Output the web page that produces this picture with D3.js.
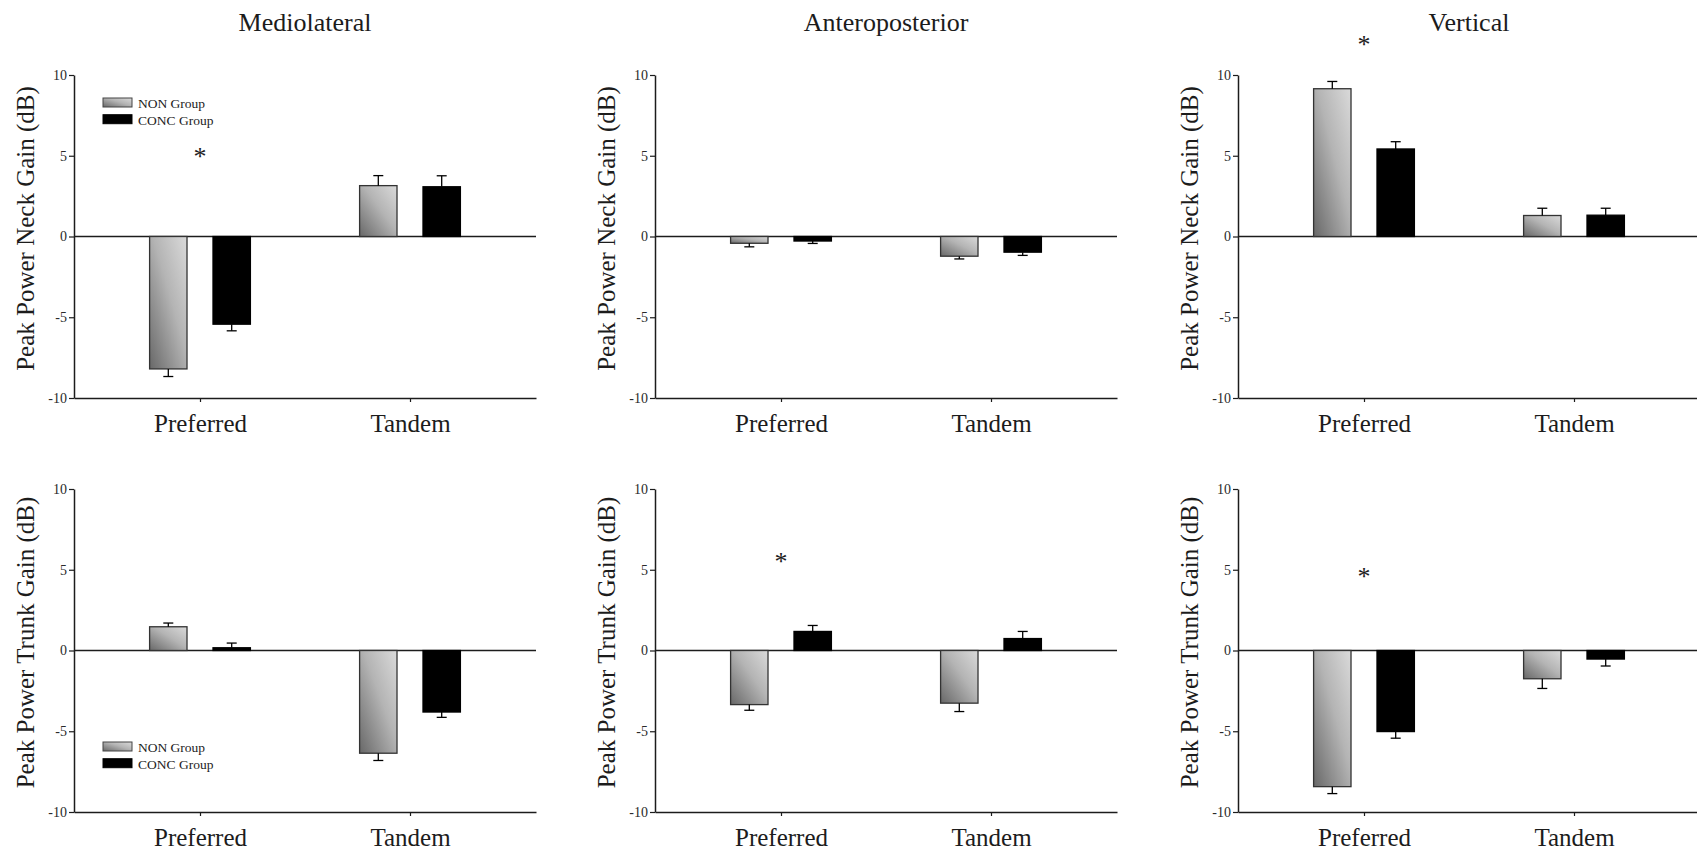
<!DOCTYPE html>
<html>
<head>
<meta charset="utf-8">
<script src="https://d3js.org/d3.v7.min.js"></script>
<style>
	body { margin: 0; background: #fff; }
	svg { font-family: "Liberation Serif", "Times New Roman", serif; }
</style>
</head>
<body>
<script>

const directions = ["Mediolateral", "Anteroposterior", "Vertical"];
const segments = ["Neck", "Trunk"];
const conditions = ["Preferred", "Tandem"];
const groups = ["NON Group", "CONC Group"];
const yTicks = [10, 5, 0, -5, -10];

// peak power gain (dB), one pair per direction: [Preferred, Tandem]
const neckNonMean  = [[-8.2, 3.15], [-0.42, -1.22], [9.15, 1.3]];
const neckNonSE    = [[0.47, 0.62], [0.22, 0.17], [0.45, 0.45]];
const neckConcMean = [[-5.43, 3.08], [-0.28, -0.97], [5.42, 1.32]];
const neckConcSE   = [[0.41, 0.68], [0.15, 0.2], [0.45, 0.43]];
const trunkNonMean  = [[1.47, -6.36], [-3.35, -3.26], [-8.43, -1.75]];
const trunkNonSE    = [[0.23, 0.45], [0.35, 0.52], [0.43, 0.6]];
const trunkConcMean = [[0.17, -3.81], [1.18, 0.74], [-5.02, -0.53]];
const trunkConcSE   = [[0.29, 0.33], [0.37, 0.44], [0.41, 0.43]];

// significance markers: segment, direction, condition, height (dB)
const starSegment   = ["Neck", "Neck", "Trunk", "Trunk"];
const starDirection = ["Mediolateral", "Vertical", "Anteroposterior", "Vertical"];
const starCondition = ["Preferred", "Preferred", "Preferred", "Preferred"];
const starValue     = [5.2, 12.1, 5.7, 4.8];

const means = {
	Neck: { "NON Group": neckNonMean, "CONC Group": neckConcMean },
	Trunk: { "NON Group": trunkNonMean, "CONC Group": trunkConcMean }
};
const errors = {
	Neck: { "NON Group": neckNonSE, "CONC Group": neckConcSE },
	Trunk: { "NON Group": trunkNonSE, "CONC Group": trunkConcSE }
};

const width = 1697, height = 853;
const colLeft = [74, 655, 1238], plotW = 462;
const rowTop = [75, 489], plotH = 323;
const ink = "#1c1c1c";

var svg = d3.select("body")
	.append("svg")
	.attr("width", width)
	.attr("height", height);

var grad = svg.append("defs")
	.append("linearGradient")
	.attr("id", "nonGrad")
	.attr("x1", 0).attr("y1", 1)
	.attr("x2", 1).attr("y2", 0);
grad.append("stop").attr("offset", "0%").attr("stop-color", "#686868");
grad.append("stop").attr("offset", "55%").attr("stop-color", "#b4b4b4");
grad.append("stop").attr("offset", "100%").attr("stop-color", "#dadada");

var y = d3.scaleLinear().domain([-10, 10]).range([plotH, 0]);
var x0 = d3.scalePoint().domain(conditions).range([0, plotW]).padding(0.6);
var step = x0.step();
var x1 = d3.scaleBand().domain(groups)
	.range([-0.24 * step, 0.24 * step])
	.paddingInner(0.41);

var fillOf = g => g == "NON Group" ? "url(#nonGrad)" : "#000";

segments.forEach((seg, r) => {
	directions.forEach((dir, c) => {
		var panel = svg.append("g")
			.attr("transform", "translate(" + colLeft[c] + "," + rowTop[r] + ")");

		var rows = [];
		conditions.forEach((cond, i) => {
			groups.forEach(g => {
				rows.push({
					cond: cond, group: g,
					mean: means[seg][g][c][i],
					se: errors[seg][g][c][i]
				});
			});
		});

		// x axis at the bottom, labels below
		panel.append("g")
			.attr("transform", "translate(0," + plotH + ")")
			.call(d3.axisBottom(x0).tickSize(4).tickSizeOuter(0).tickPadding(12))
			.call(g => g.select(".domain").attr("stroke", ink).attr("stroke-width", 1.5))
			.call(g => g.selectAll(".tick line").attr("stroke", ink).attr("stroke-width", 1.2))
			.call(g => g.selectAll("text")
				.attr("fill", ink)
				.style("font-size", "25px")
				.style("font-family", "Liberation Serif"));

		panel.append("g")
			.call(d3.axisLeft(y).tickValues(yTicks).tickSize(5).tickSizeOuter(0)
				.tickPadding(2).tickFormat(d => String(d)))
			.call(g => g.select(".domain").attr("stroke", ink).attr("stroke-width", 1.5))
			.call(g => g.selectAll(".tick line").attr("stroke", ink).attr("stroke-width", 1.2))
			.call(g => g.selectAll("text")
				.attr("fill", "#2a2a2a")
				.style("font-size", "14px")
				.style("font-family", "Liberation Serif"));

		// zero line
		panel.append("line")
			.attr("x1", 0).attr("x2", plotW)
			.attr("y1", y(0)).attr("y2", y(0))
			.attr("stroke", ink)
			.attr("stroke-width", 1.4);

		panel.selectAll("rect.bar")
			.data(rows)
			.enter()
			.append("rect")
			.attr("class", "bar")
			.attr("x", d => x0(d.cond) + x1(d.group))
			.attr("y", d => y(Math.max(0, d.mean)))
			.attr("width", x1.bandwidth())
			.attr("height", d => Math.abs(y(d.mean) - y(0)))
			.attr("fill", d => fillOf(d.group))
			.attr("stroke", d => d.group == "NON Group" ? "#333" : "#000")
			.attr("stroke-width", 1.3);

		var cap = 5;
		var err = panel.selectAll("g.err")
			.data(rows)
			.enter()
			.append("g")
			.attr("class", "err")
			.attr("stroke", "#000")
			.attr("stroke-width", 1.3);
		err.append("line")
			.attr("x1", d => x0(d.cond) + x1(d.group) + x1.bandwidth() / 2)
			.attr("x2", d => x0(d.cond) + x1(d.group) + x1.bandwidth() / 2)
			.attr("y1", d => y(d.mean))
			.attr("y2", d => y(d.mean + Math.sign(d.mean) * d.se));
		err.append("line")
			.attr("x1", d => x0(d.cond) + x1(d.group) + x1.bandwidth() / 2 - cap)
			.attr("x2", d => x0(d.cond) + x1(d.group) + x1.bandwidth() / 2 + cap)
			.attr("y1", d => y(d.mean + Math.sign(d.mean) * d.se))
			.attr("y2", d => y(d.mean + Math.sign(d.mean) * d.se));

		// y label
		panel.append("text")
			.attr("transform", "translate(-40," + (plotH / 2 - 8) + ") rotate(-90)")
			.attr("text-anchor", "middle")
			.attr("fill", ink)
			.style("font-size", "25px")
			.text("Peak Power " + seg + " Gain (dB)");

		// column titles
		if (r == 0) {
			panel.append("text")
				.attr("x", plotW / 2)
				.attr("y", 31 - rowTop[r])
				.attr("text-anchor", "middle")
				.attr("fill", ink)
				.style("font-size", "26px")
				.text(dir);
		}

		// significance stars
		starSegment.forEach((s, k) => {
			if (s != seg || starDirection[k] != dir) return;
			panel.append("text")
				.attr("x", x0(starCondition[k]))
				.attr("y", y(starValue[k]) + 12)
				.attr("text-anchor", "middle")
				.attr("fill", ink)
				.style("font-size", "26px")
				.text("*");
		});

		// legends in the left column
		if (c == 0) {
			var legTop = r == 0 ? 23 : 253;
			var leg = panel.append("g")
				.attr("transform", "translate(29," + legTop + ")");
			groups.forEach((g, k) => {
				leg.append("rect")
					.attr("x", 0)
					.attr("y", k * 16.7)
					.attr("width", 29)
					.attr("height", 9)
					.attr("fill", fillOf(g))
					.attr("stroke", g == "NON Group" ? "#444" : "#000")
					.attr("stroke-width", 1);
				leg.append("text")
					.attr("x", 35)
					.attr("y", k * 16.7 + 10)
					.attr("fill", ink)
					.style("font-size", "13.5px")
					.text(g);
			});
		}
	});
});

</script>
</body>
</html>
